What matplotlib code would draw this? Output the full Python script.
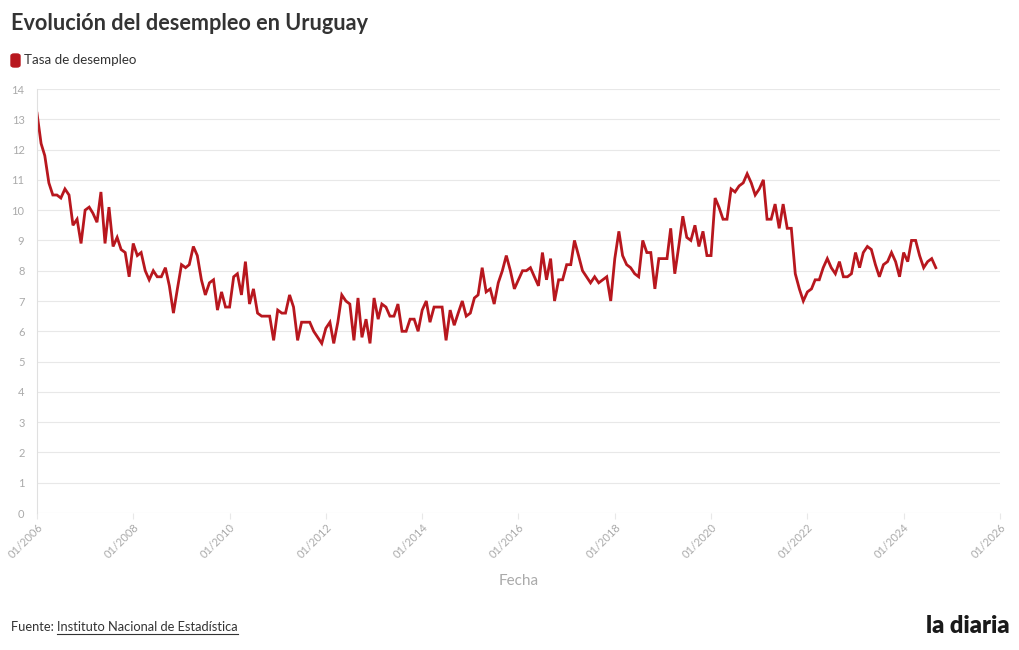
import matplotlib
matplotlib.use("Agg")
import matplotlib.pyplot as plt
import matplotlib.dates as mdates
from matplotlib.patches import FancyBboxPatch
from matplotlib.lines import Line2D
import pandas as pd

# tasa de desempleo mensual, desde 01/2006
tasa = [
    13.2, 12.2, 11.8, 10.9, 10.5, 10.5, 10.4, 10.7, 10.5, 9.5, 9.7, 8.9,
    10.0, 10.1, 9.9, 9.6, 10.6, 8.9, 10.1, 8.8, 9.1, 8.7, 8.6, 7.8,
    8.9, 8.5, 8.6, 8.0, 7.7, 8.0, 7.8, 7.8, 8.1, 7.5, 6.6, 7.4,
    8.2, 8.1, 8.2, 8.8, 8.5, 7.7, 7.2, 7.6, 7.7, 6.7, 7.3, 6.8,
    6.8, 7.8, 7.9, 7.2, 8.3, 6.9, 7.4, 6.6, 6.5, 6.5, 6.5, 5.7,
    6.7, 6.6, 6.6, 7.2, 6.8, 5.7, 6.3, 6.3, 6.3, 6.0, 5.8, 5.6,
    6.1, 6.3, 5.6, 6.3, 7.2, 7.0, 6.9, 5.7, 7.1, 5.8, 6.4, 5.6,
    7.1, 6.4, 6.9, 6.8, 6.5, 6.5, 6.9, 6.0, 6.0, 6.4, 6.4, 6.0,
    6.7, 7.0, 6.3, 6.8, 6.8, 6.8, 5.7, 6.7, 6.2, 6.6, 7.0, 6.5,
    6.6, 7.1, 7.2, 8.1, 7.3, 7.4, 6.9, 7.6, 8.0, 8.5, 8.0, 7.4,
    7.7, 8.0, 8.0, 8.1, 7.8, 7.5, 8.6, 7.7, 8.4, 7.0, 7.7, 7.7,
    8.2, 8.2, 9.0, 8.5, 8.0, 7.8, 7.6, 7.8, 7.6, 7.7, 7.8, 7.0,
    8.4, 9.3, 8.5, 8.2, 8.1, 7.9, 7.8, 9.0, 8.6, 8.6, 7.4, 8.4,
    8.4, 8.4, 9.4, 7.9, 8.8, 9.8, 9.1, 9.0, 9.5, 8.8, 9.3, 8.5,
    8.5, 10.4, 10.1, 9.7, 9.7, 10.7, 10.6, 10.8, 10.9, 11.2, 10.9, 10.5,
    10.7, 11.0, 9.7, 9.7, 10.2, 9.4, 10.2, 9.4, 9.4, 7.9, 7.4, 7.0,
    7.3, 7.4, 7.7, 7.7, 8.1, 8.4, 8.1, 7.9, 8.3, 7.8, 7.8, 7.9,
    8.6, 8.1, 8.6, 8.8, 8.7, 8.2, 7.8, 8.2, 8.3, 8.6, 8.3, 7.8,
    8.6, 8.3, 9.0, 9.0, 8.5, 8.1, 8.3, 8.4, 8.1,
]
fechas = pd.date_range("2006-01-01", periods=len(tasa), freq="MS")
y_ticks = list(range(0, 15))

rojo = "#b8171e"
gris = "#aaaaaa"

fig = plt.figure(figsize=(10.2, 6.5), dpi=100)
ax = fig.add_axes([37 / 1020, 1 - 513 / 650, 963 / 1020, 424 / 650])

ax.plot(fechas, tasa, color=rojo, lw=2.0, solid_joinstyle="miter")

ax.set_xlim(pd.Timestamp("2006-01-01"), pd.Timestamp("2026-01-01"))
ax.set_ylim(0, 14)
ax.set_yticks(y_ticks)
ax.xaxis.set_major_locator(mdates.YearLocator(2))
ax.xaxis.set_major_formatter(mdates.DateFormatter("%m/%Y"))

ax.grid(axis="y", color="#e8e8e8", lw=0.8)
ax.set_axisbelow(True)
for s in ["top", "right", "bottom"]:
    ax.spines[s].set_visible(False)
ax.spines["left"].set_color("#e0e0e0")
ax.spines["left"].set_linewidth(0.8)

ax.tick_params(axis="y", length=0, pad=9, labelsize=8, labelcolor=gris)
ax.tick_params(axis="x", length=4, color="#e8e8e8", pad=2, labelsize=8, labelcolor=gris)
for lbl in ax.get_xticklabels():
    lbl.set_rotation(45)
    lbl.set_ha("right")
    lbl.set_rotation_mode("anchor")
for lbl in ax.get_yticklabels() + ax.get_xticklabels():
    lbl.set_fontfamily("Lato")

ax.set_xlabel("Fecha", fontsize=11, color=gris, labelpad=10, fontfamily="Lato")

fig.text(11 / 1020, 1 - 24 / 650, "Evolución del desempleo en Uruguay",
         fontsize=15.6, fontweight="bold", color="#333333", va="center",
         fontfamily="Lato")

# leyenda
fig.patches.append(FancyBboxPatch((11 / 1020, 1 - 67 / 650), 9 / 1020, 13 / 650,
                                  boxstyle="round,pad=0,rounding_size=0.003",
                                  transform=fig.transFigure, color=rojo))
fig.text(24 / 1020, 1 - 60 / 650, "Tasa de desempleo", fontsize=9.6,
         color="#333333", va="center", fontfamily="Lato")

# fuente
t1 = fig.text(11 / 1020, 1 - 627 / 650, "Fuente: ", fontsize=9.3,
              color="#333333", va="center", fontfamily="Lato")
fig.canvas.draw()
bb = t1.get_window_extent()
t2 = fig.text(bb.x1 / 1020, 1 - 627 / 650, "Instituto Nacional de Estadística",
              fontsize=9.3, color="#333333", va="center", fontfamily="Lato")
fig.canvas.draw()
bb2 = t2.get_window_extent()
fig.lines.append(Line2D([bb2.x0 / 1020, bb2.x1 / 1020],
                        [(bb2.y0 - 1) / 650, (bb2.y0 - 1) / 650],
                        transform=fig.transFigure, color="#333333", lw=0.8))

fig.text(1010 / 1020, 1 - 626 / 650, "la diaria", fontsize=17, fontweight="heavy",
         color="#1a1a1a", ha="right", va="center", fontfamily="Lato")

fig.savefig("out.png", dpi=100)
